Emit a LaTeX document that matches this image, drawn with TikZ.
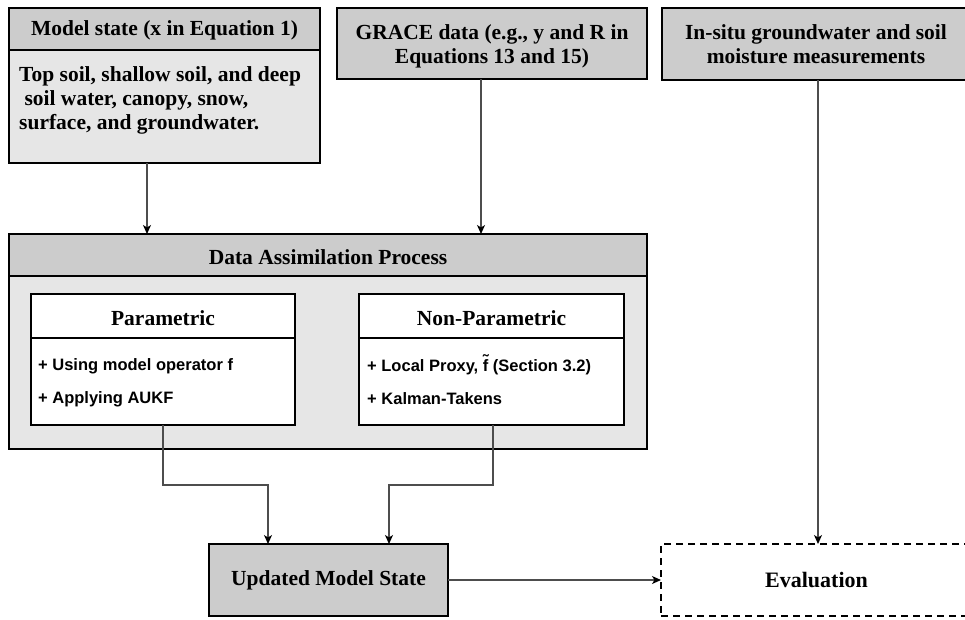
\documentclass[tikz,border=0pt]{standalone}
\usepackage{fontspec}
\setmainfont{Liberation Serif}
\setsansfont{Liberation Sans}
\usetikzlibrary{arrows.meta}
\definecolor{hdrgray}{HTML}{CCCCCC}
\definecolor{bodygray}{HTML}{E6E6E6}
\definecolor{conncol}{HTML}{4D4D4D}
\newcommand{\ftil}{\makebox[0pt][l]{\raisebox{0.3em}{\char"02DC}}f}
\begin{document}
\begin{tikzpicture}[x=1pt,y=-1pt,
  box/.style={draw=black, line width=2.2pt, inner sep=0pt, outer sep=0pt, align=center},
  hdr/.style={box, fill=hdrgray, font=\fontsize{21.5}{24}\selectfont\bfseries},
  bodyb/.style={box, fill=bodygray},
  whiteb/.style={box, fill=white},
  hdrtxt/.style={inner sep=0pt, align=center, font=\fontsize{21.5}{24}\selectfont\bfseries},
  listtxt/.style={inner sep=0pt, anchor=base west, align=left, font=\fontsize{16.5}{33}\selectfont\sffamily\bfseries},
  conn/.style={draw=conncol, line width=1.3pt},
  arr/.style={conn, -{Stealth[length=9pt,width=8pt,inset=2.5pt,color=black]}},
  evalb/.style={draw=black, line width=2.2pt, dash pattern=on 7pt off 5pt, inner sep=0pt, outer sep=0pt, font=\fontsize{22}{24}\selectfont\bfseries}
]
\useasboundingbox (0,0) rectangle (965,619);

% Model state
\node[hdr, minimum width=311pt, minimum height=42pt] (msH) at (164.5,29) {};
\node[hdrtxt] (msHT) at (164.5,30.5) {Model state (x in Equation 1)};
\node[bodyb, minimum width=311pt, minimum height=113pt] (msB) at (164.5,106.5) {};
\node[inner sep=0pt, anchor=base west, align=left, font=\fontsize{21.5}{24}\selectfont\bfseries] (msT) at (19,129)
  {Top soil, shallow soil, and deep\\\hspace*{0.25em}soil water, canopy, snow,\\surface, and groundwater.};

% GRACE
\node[hdr, minimum width=310pt, minimum height=71pt] (gr) at (492,43.5) {};
\node[hdrtxt, anchor=base] (grT) at (492,63) {GRACE data (e.g., y and R in\\Equations 13 and 15)};

% In-situ
\node[hdr, minimum width=308pt, minimum height=72pt] (ins) at (816,44) {};
\node[hdrtxt, anchor=base] (insT) at (816,63.5) {In-situ groundwater and soil\\moisture measurements};

% Data assimilation
\node[hdr, minimum width=638pt, minimum height=42pt] (daH) at (328,255) {};
\node[hdrtxt] (daT) at (328,257) {Data Assimilation Process};
\node[bodyb, minimum width=638pt, minimum height=173pt] (daB) at (328,362.5) {};

% Parametric
\node[whiteb, minimum width=264pt, minimum height=44pt] (pH) at (163,316) {};
\node[hdrtxt] (pHT) at (163,318.5) {Parametric};
\node[whiteb, minimum width=264pt, minimum height=87pt] (pB) at (163,381.5) {};
\node[listtxt] (pT) at (38,403) {+ Using model operator f\\+ Applying AUKF};

% Non-parametric
\node[whiteb, minimum width=265pt, minimum height=44pt] (nH) at (491.5,316) {};
\node[hdrtxt] (nHT) at (491.5,318.5) {Non-Parametric};
\node[whiteb, minimum width=265pt, minimum height=87pt] (nB) at (491.5,381.5) {};
\node[listtxt] (nT) at (367,404) {+ Local Proxy, \ftil\ (Section 3.2)\\+ Kalman-Takens};

% Updated model state
\node[hdr, minimum width=239pt, minimum height=72pt] (up) at (328.5,580) {Updated Model State};

% Evaluation
\node[evalb, minimum width=311pt, minimum height=72pt] (ev) at (816.5,580) {Evaluation};

% connectors
\draw[arr] (msB.south -| 147,0) -- (daH.north -| 147,0);
\draw[arr] (gr.south -| 481,0) -- (daH.north -| 481,0);
\draw[arr] (ins.south -| 818,0) -- (ev.north -| 818,0);
\draw[arr] (pB.south -| 163,0) -- (163,485) -- (268,485) -- (up.north -| 268,0);
\draw[arr] (nB.south -| 493,0) -- (493,485) -- (389,485) -- (up.north -| 389,0);
\draw[arr] (up.east) -- (ev.west);
\end{tikzpicture}
\end{document}
